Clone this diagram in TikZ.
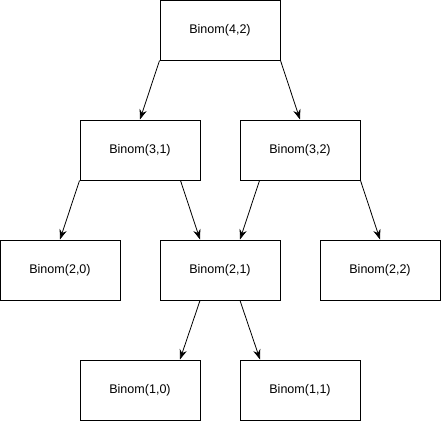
\documentclass[tikz,border=0pt]{standalone}
\usepackage{fontspec}
\setmainfont{Liberation Sans}
\usepackage{tikz}
\usetikzlibrary{arrows.meta}

\tikzset{
binom/.style={draw, line width=0.75pt, minimum width=90pt, minimum height=45pt, inner sep=0pt, font=\fontsize{9.4}{11}\selectfont},
edge/.style={-{Stealth[length=7.5pt,width=5.5pt]}, line width=0.6pt}
}

\begin{document}
\begin{tikzpicture}[x=0.75pt,y=-0.75pt]
\useasboundingbox (0,0) rectangle (441,421);

% rows of the tree
\node[binom] (b42) at (220,30) {Binom(4,2)};
\node[binom] (b31) at (140,150) {Binom(3,1)};
\node[binom] (b32) at (300,150) {Binom(3,2)};
\node[binom] (b20) at (60,270) {Binom(2,0)};
\node[binom] (b21) at (220,270) {Binom(2,1)};
\node[binom] (b22) at (380,270) {Binom(2,2)};
\node[binom] (b10) at (140,390) {Binom(1,0)};
\node[binom] (b11) at (300,390) {Binom(1,1)};

% calls
\draw[edge] (b42.south west) -- (b31.north);
\draw[edge] (b42.south east) -- (b32.north);
\draw[edge] (b31.south west) -- (b20.north);
\draw[edge] ([xshift=-15pt]b31.south east) -- ([xshift=-15pt]b21.north);
\draw[edge] ([xshift=15pt]b32.south west) -- ([xshift=15pt]b21.north);
\draw[edge] (b32.south east) -- (b22.north);
\draw[edge] ([xshift=-15pt]b21.south) -- ([xshift=30pt]b10.north);
\draw[edge] ([xshift=15pt]b21.south) -- ([xshift=-30pt]b11.north);
\end{tikzpicture}
\end{document}
